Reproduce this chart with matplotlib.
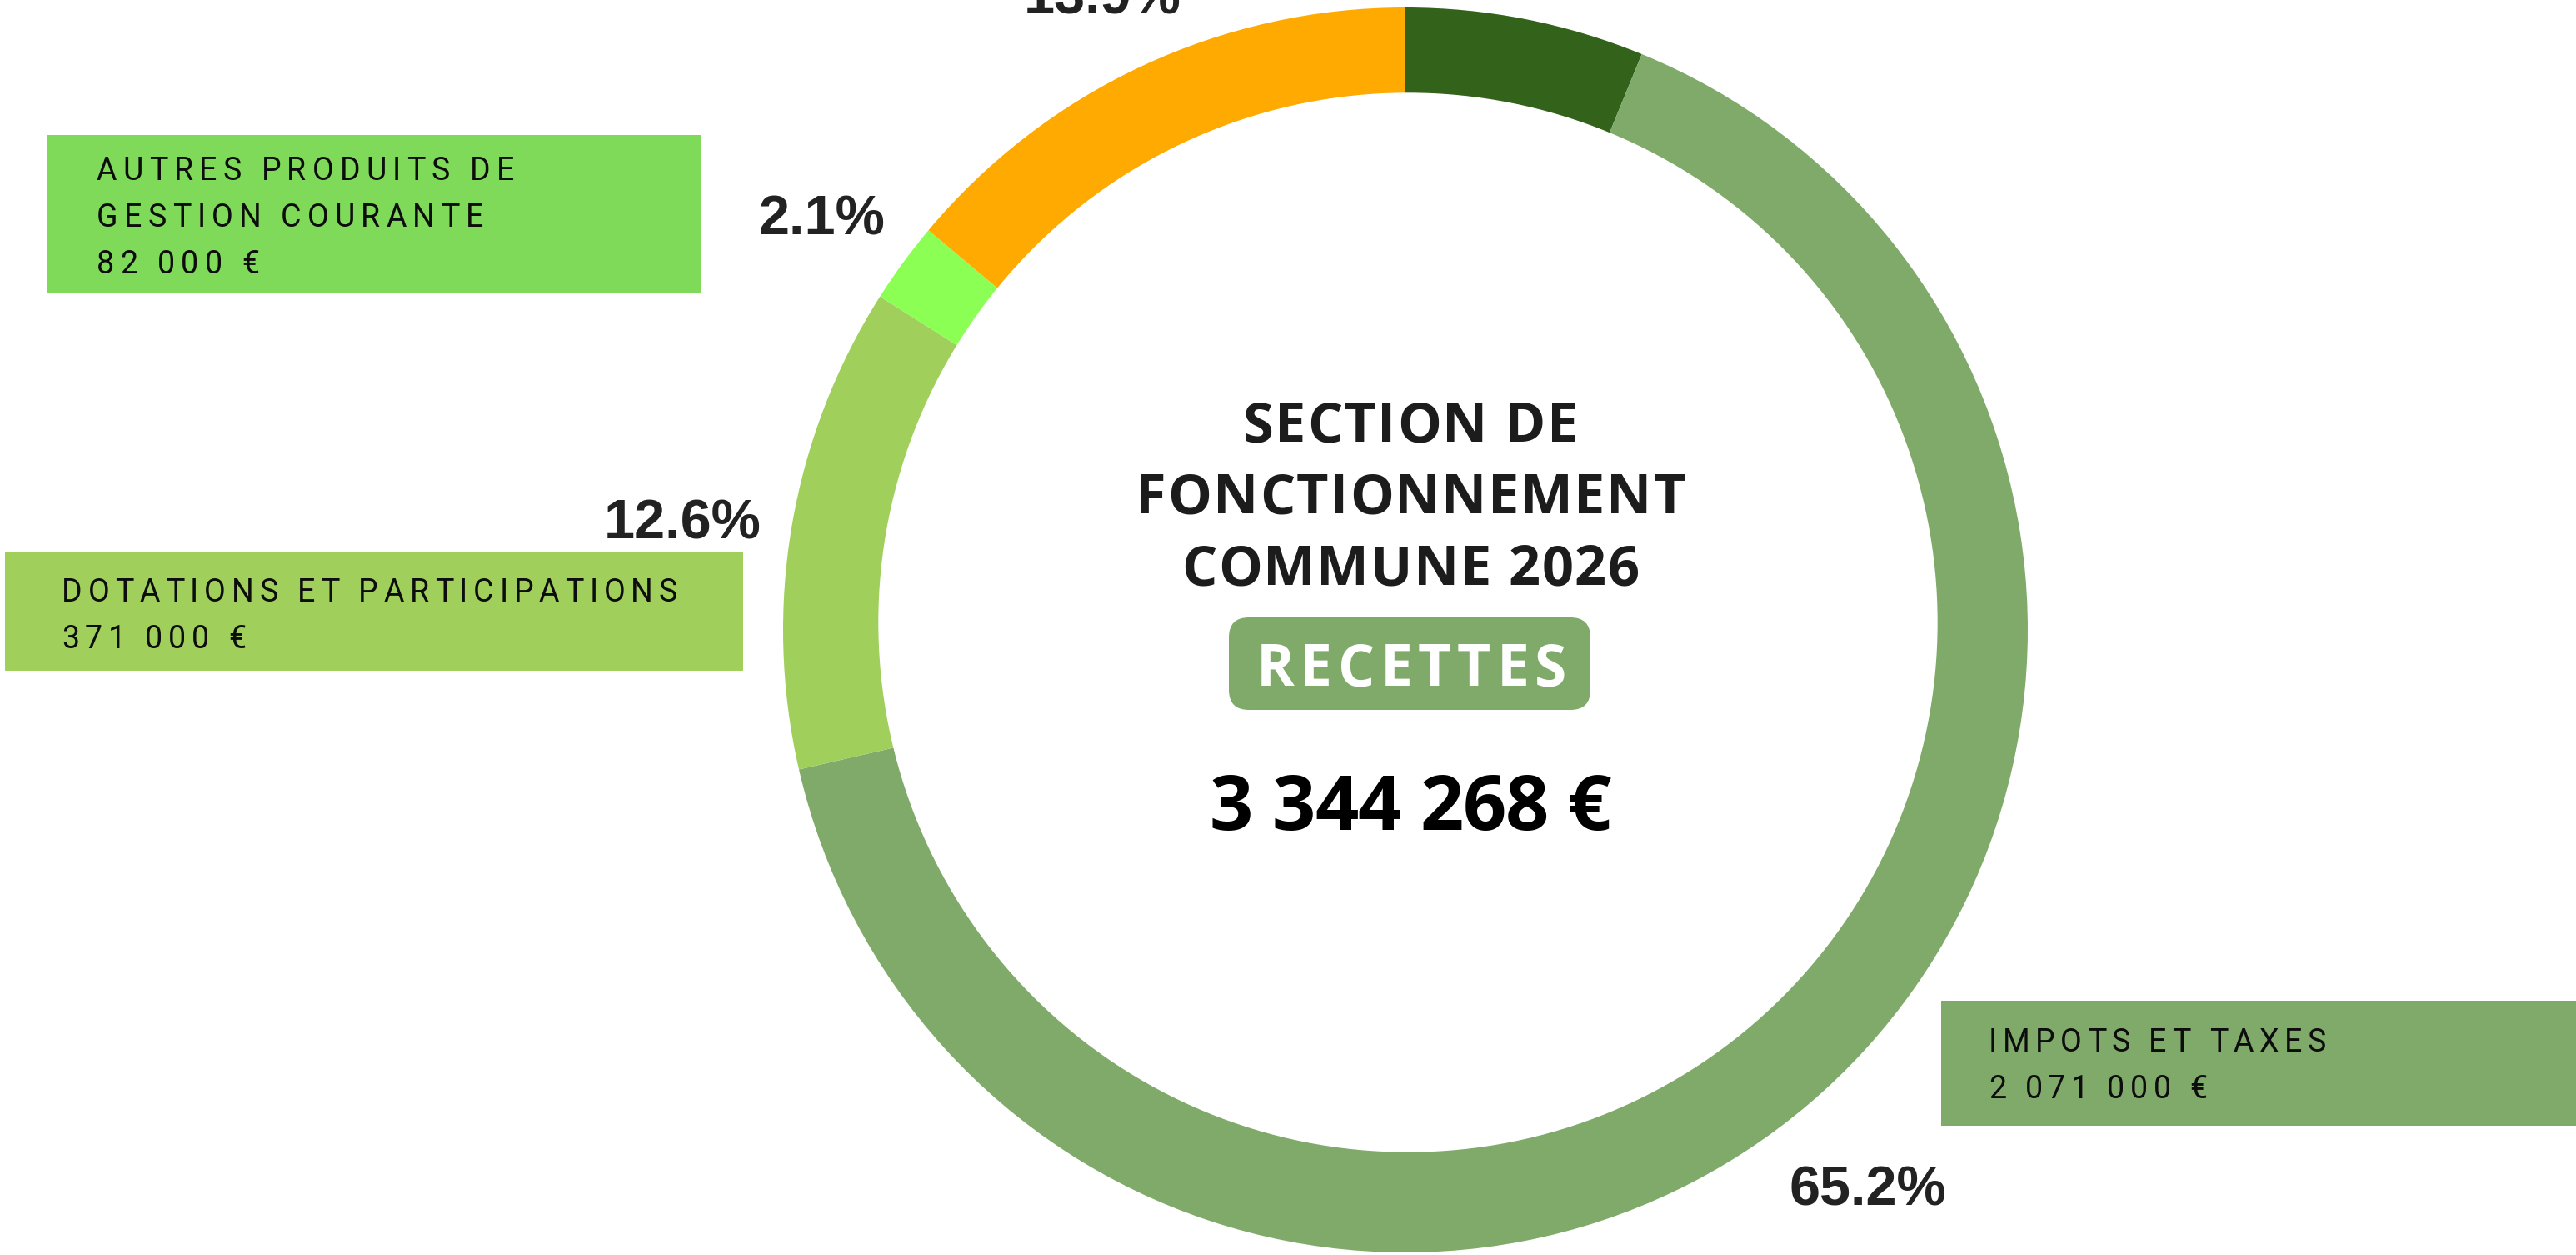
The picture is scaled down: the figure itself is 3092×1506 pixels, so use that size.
import matplotlib
matplotlib.use("Agg")
import matplotlib.pyplot as plt
from matplotlib.patches import Rectangle, FancyBboxPatch, Circle
from matplotlib.font_manager import FontProperties
from matplotlib.textpath import TextToPath

# chart data
segments = ["(hors cadre)", "IMPOTS ET TAXES", "DOTATIONS ET PARTICIPATIONS",
            "AUTRES PRODUITS DE GESTION COURANTE", "(autre)"]
pcts = [6.2, 65.2, 12.6, 2.1, 13.9]
ring_colors = ["#33631a", "#80aa6a", "#a0cf5c", "#8cff55", "#ffaa00"]
show_pct = [False, True, True, True, True]   # the first label sits outside the frame

box_titles = [["AUTRES PRODUITS DE", "GESTION COURANTE"],
              ["DOTATIONS ET PARTICIPATIONS"],
              ["IMPOTS ET TAXES"]]
box_amounts = ["82 000 €", "371 000 €", "2 071 000 €"]
box_colors = ["#80da5a", "#a0cf5c", "#80aa6a"]

title_lines = ["SECTION DE", "FONCTIONNEMENT", "COMMUNE 2026"]
badge_text = "RECETTES"
total_text = "3 344 268 €"

W, H = 3092, 1506
PX = 100 / 72
fig = plt.figure(figsize=(W / 100, H / 100), dpi=100)
ax = fig.add_axes([0, 0, 1, 1])

cx, cy, R = 1687, 756, 747
wedges, _, autotexts = ax.pie(
    pcts, colors=ring_colors, startangle=-90, counterclock=True,
    center=(cx, cy), radius=R, wedgeprops=dict(linewidth=0),
    autopct="%.1f%%", pctdistance=1.152,
    textprops=dict(fontsize=48, fontweight="bold", color="#222222",
                   family="Liberation Sans"))
# small nudges so the glyphs sit where the original puts them
nudges = [(0, 0), (-2, 17), (-20, 19), (-6, 17), (0, 23)]
for t, show, (dx, dy) in zip(autotexts, show_pct, nudges):
    x, y = t.get_position()
    t.set_position((x + dx, y + dy))
    t.set_visible(show)

# hole (slightly off-centre, as in the original)
ax.add_patch(Circle((1690, 747), 635, color="white", zorder=3))

ax.set_xlim(0, W)
ax.set_ylim(H, 0)
ax.axis("off")

ttp = TextToPath()


def advances(s, fp):
    w = [0.0]
    for i in range(1, len(s) + 1):
        w.append(ttp.get_text_width_height_descent(s[:i], fp, ismath=False)[0] * PX)
    return w


def tracked(x, y, s, fp, track, ha="left", **kw):
    widths = advances(s, fp)
    total = widths[-1] + track * (len(s) - 1)
    if ha == "center":
        x -= total / 2
    for i, ch in enumerate(s):
        ax.text(x + widths[i] + i * track, y, ch, fontproperties=fp,
                ha="left", va="baseline", zorder=6, **kw)


def fit_track(s, fp, target):
    return (target - advances(s, fp)[-1]) / (len(s) - 1)


# label boxes: (x0, y0, x1, y1, text x, first baseline, width of first line)
box_layout = [(57, 162, 842, 352, 116, 216, 501),
              (6, 663, 892, 805, 74, 722, 739),
              (2330, 1201, 3092, 1351, 2387, 1262, 405)]
box_fp = FontProperties(family="Roboto", weight="regular", size=27)
for (x0, y0, x1, y1, tx, by, tw), col, lines, amt in zip(box_layout, box_colors,
                                                          box_titles, box_amounts):
    ax.add_patch(Rectangle((x0, y0), x1 - x0, y1 - y0, color=col, lw=0, zorder=4))
    trk = fit_track(lines[0], box_fp, tw)
    for k, line in enumerate(lines + [amt]):
        tracked(tx, by + 56 * k, line, box_fp, trk, color="#0d0d0d")

# centre texts
title_fp = FontProperties(family="Open Sans", weight="bold", size=48)
for k, line in enumerate(title_lines):
    tracked(1693, 530 + 86 * k, line, title_fp, 1.6, ha="center", color="#1c1c1c")

ax.add_patch(FancyBboxPatch((1475, 741), 434, 111,
                            boxstyle="round,pad=0,rounding_size=24",
                            fc="#80aa6a", ec="none", zorder=5))
badge_fp = FontProperties(family="Open Sans", weight="bold", size=50)
tracked(1694, 823, badge_text, badge_fp, 6.5, ha="center", color="white")

total_fp = FontProperties(family="Open Sans", weight="bold", size=66)
tracked(1693, 996, total_text, total_fp, -0.8, ha="center", color="black")

fig.savefig("out.png", dpi=100, facecolor="white")
